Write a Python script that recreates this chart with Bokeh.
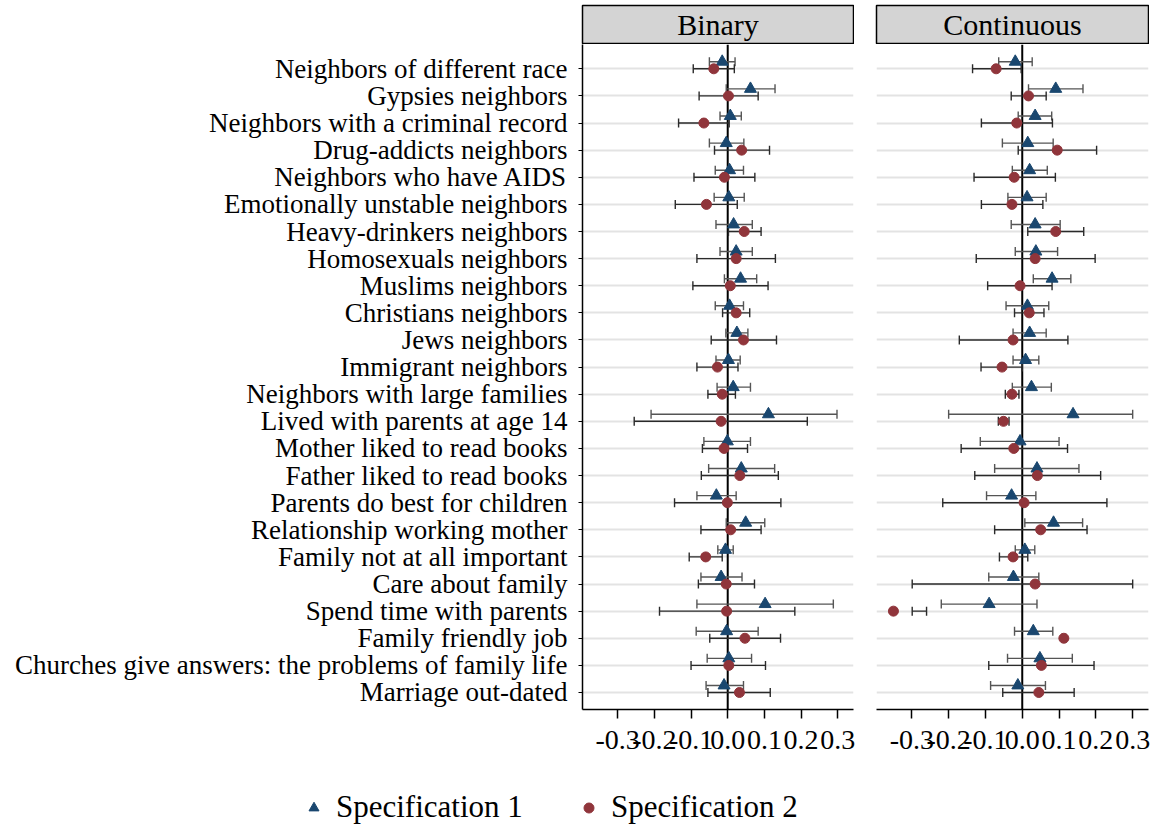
import numpy as np
from bokeh.plotting import figure
from bokeh.models import (ColumnDataSource, Whisker, TeeHead, FixedTicker, NumeralTickFormatter,
                          Range1d, Legend, LegendItem, Spacer, Label, Span)
from bokeh.layouts import column, row
from bokeh.embed import file_html
from bokeh.resources import INLINE

categories = [
    "Neighbors of different race", "Gypsies neighbors", "Neighbors with a criminal record",
    "Drug-addicts neighbors", "Neighbors who have AIDS", "Emotionally unstable neighbors",
    "Heavy-drinkers neighbors", "Homosexuals neighbors", "Muslims neighbors",
    "Christians neighbors", "Jews neighbors", "Immigrant neighbors",
    "Neighbors with large families", "Lived with parents at age 14", "Mother liked to read books",
    "Father liked to read books", "Parents do best for children", "Relationship working mother",
    "Family not at all important", "Care about family", "Spend time with parents",
    "Family friendly job", "Churches give answers: the problems of family life", "Marriage out-dated",
]
panels = ["Binary", "Continuous"]
series_names = ["Specification 1", "Specification 2"]
xticks = [-0.3, -0.2, -0.1, 0.0, 0.1, 0.2, 0.3]

# Binary, Specification 1
bin_s1 = [-0.015, 0.062, 0.007, -0.004, 0.005, 0.003, 0.016, 0.023, 0.035, 0.005, 0.025, 0.002,
          0.015, 0.111, -0.001, 0.037, -0.031, 0.049, -0.006, -0.018, 0.102, -0.003, 0.003, -0.010]
bin_s1_lo = [-0.050, -0.004, -0.021, -0.050, -0.034, -0.037, -0.032, -0.021, -0.009, -0.034, -0.005, -0.032,
             -0.029, -0.209, -0.065, -0.052, -0.084, -0.004, -0.027, -0.073, -0.084, -0.086, -0.056, -0.059]
bin_s1_hi = [0.020, 0.129, 0.037, 0.044, 0.043, 0.045, 0.067, 0.067, 0.079, 0.043, 0.055, 0.034,
             0.062, 0.298, 0.062, 0.128, 0.023, 0.101, 0.015, 0.039, 0.288, 0.083, 0.065, 0.043]
# Binary, Specification 2
bin_s2 = [-0.038, 0.002, -0.065, 0.038, -0.009, -0.058, 0.045, 0.023, 0.007, 0.023, 0.043, -0.028,
          -0.015, -0.018, -0.010, 0.033, -0.001, 0.008, -0.060, -0.004, -0.003, 0.047, 0.003, 0.032]
bin_s2_lo = [-0.094, -0.078, -0.134, -0.036, -0.092, -0.143, 0.002, -0.084, -0.095, -0.014, -0.045, -0.084,
             -0.054, -0.255, -0.069, -0.072, -0.145, -0.073, -0.105, -0.080, -0.186, -0.049, -0.100, -0.054]
bin_s2_hi = [0.018, 0.083, 0.004, 0.114, 0.074, 0.026, 0.091, 0.130, 0.110, 0.060, 0.133, 0.028,
             0.021, 0.217, 0.054, 0.138, 0.145, 0.091, -0.015, 0.073, 0.183, 0.144, 0.103, 0.116]
# Continuous, Specification 1
con_s1 = [-0.019, 0.091, 0.035, 0.015, 0.020, 0.013, 0.035, 0.037, 0.081, 0.014, 0.020, 0.009,
          0.025, 0.138, -0.006, 0.040, -0.029, 0.085, 0.007, -0.024, -0.090, 0.030, 0.048, -0.012]
con_s1_lo = [-0.064, 0.017, -0.011, -0.054, -0.027, -0.039, -0.030, -0.019, 0.030, -0.044, -0.025, -0.025,
             -0.027, -0.200, -0.114, -0.075, -0.097, 0.007, -0.019, -0.091, -0.220, -0.021, -0.040, -0.086]
con_s1_hi = [0.027, 0.165, 0.080, 0.084, 0.068, 0.065, 0.103, 0.096, 0.132, 0.072, 0.065, 0.045,
             0.079, 0.300, 0.100, 0.154, 0.037, 0.164, 0.034, 0.045, 0.040, 0.083, 0.136, 0.063]
# Continuous, Specification 2
con_s2 = [-0.071, 0.017, -0.015, 0.095, -0.022, -0.028, 0.091, 0.035, -0.006, 0.019, -0.025, -0.055,
          -0.028, -0.051, -0.023, 0.041, 0.005, 0.050, -0.025, 0.035, -0.350, 0.113, 0.052, 0.045]
con_s2_lo = [-0.135, -0.030, -0.111, -0.011, -0.131, -0.111, 0.015, -0.125, -0.094, -0.021, -0.171, -0.112,
             -0.046, -0.065, -0.166, -0.129, -0.216, -0.075, -0.062, -0.299, -0.299, 0.108, -0.091, -0.053]
con_s2_hi = [-0.003, 0.065, 0.082, 0.202, 0.090, 0.056, 0.167, 0.198, 0.081, 0.059, 0.124, 0.000,
             -0.009, -0.036, 0.123, 0.213, 0.230, 0.176, 0.015, 0.300, -0.260, 0.118, 0.195, 0.141]

NAVY = "#1a476f"
MAROON = "#90353b"
FONT = "Liberation Serif"
n = len(categories)
rows = np.arange(n)
OFFSET = 0.26


def make_panel(vals, show_y, width, mbl, mbr):
    s1, s1lo, s1hi, s2, s2lo, s2hi = vals
    p = figure(width=width, height=721, x_range=Range1d(-0.396, 0.343),
               y_range=Range1d(n - 1 + 0.627, -0.896),
               toolbar_location=None, output_backend="svg",
               y_axis_location="left" if show_y else None,
               min_border_left=mbl, min_border_right=mbr, min_border_top=0, min_border_bottom=56)
    p.outline_line_color = None
    p.xgrid.visible = False
    p.ygrid.ticker = FixedTicker(ticks=list(rows))
    p.ygrid.grid_line_color = "#e3e3e3"
    p.ygrid.grid_line_width = 2

    p.add_layout(Span(location=0, dimension="height", line_color="black", line_width=2, level="underlay"))

    src1 = ColumnDataSource(dict(x=s1, lo=s1lo, hi=s1hi, y=rows - OFFSET))
    src2 = ColumnDataSource(dict(x=s2, lo=s2lo, hi=s2hi, y=rows))
    for src, col in ((src1, "#555555"), (src2, "#2a2a2a")):
        w = Whisker(source=src, base="y", lower="lo", upper="hi", dimension="width",
                    line_color=col, line_width=1.4, level="underlay",
                    lower_head=TeeHead(size=9, line_color=col, line_width=1.4),
                    upper_head=TeeHead(size=9, line_color=col, line_width=1.4))
        p.add_layout(w)
    p.scatter(x="x", y="y", source=src1, marker="triangle", size=12, fill_color=NAVY, line_color=NAVY)
    p.scatter(x="x", y="y", source=src2, marker="circle", size=10, fill_color=MAROON, line_color=MAROON)

    xa = p.xaxis[0]
    xa.ticker = FixedTicker(ticks=xticks)
    xa.formatter = NumeralTickFormatter(format="0.0")
    xa.minor_tick_line_color = None
    xa.major_tick_in = 0
    xa.major_tick_out = 9
    xa.major_tick_line_width = 1.5
    xa.axis_line_width = 1.5
    xa.axis_line_color = "black"
    xa.major_label_standoff = 12
    xa.major_label_text_font = FONT
    xa.major_label_text_font_size = "28px"
    xa.major_label_text_color = "black"
    if show_y:
        ya = p.yaxis[0]
        ya.ticker = FixedTicker(ticks=list(rows))
        ya.major_label_overrides = {int(i): c for i, c in zip(rows, categories)}
        ya.minor_tick_line_color = None
        ya.major_tick_in = 0
        ya.major_tick_out = 4
        ya.major_tick_line_width = 1.2
        ya.axis_line_width = 1.5
        ya.axis_line_color = "black"
        ya.major_label_standoff = 11
        ya.major_label_text_font = FONT
        ya.major_label_text_font_size = "27px"
        ya.major_label_text_color = "black"
    return p


def make_header(text, width):
    h = figure(width=width, height=40, x_range=Range1d(0, 1), y_range=Range1d(0, 1),
               toolbar_location=None, output_backend="svg", x_axis_location=None, y_axis_location=None,
               min_border_left=1, min_border_right=1, min_border_top=1, min_border_bottom=1)
    h.grid.visible = False
    h.background_fill_color = "#d4d4d4"
    h.outline_line_color = "black"
    h.outline_line_width = 1.5
    h.add_layout(Label(x=0.5, y=0.5, text=text, text_align="center", text_baseline="middle",
                       text_font=FONT, text_font_size="30px", text_color="black"))
    return h


p1 = make_panel((bin_s1, bin_s1_lo, bin_s1_hi, bin_s2, bin_s2_lo, bin_s2_hi), True, 857, 575, 11)
p2 = make_panel((con_s1, con_s1_lo, con_s1_hi, con_s2, con_s2_lo, con_s2_hi), False, 289, 12, 5)

h1 = make_header(panels[0], 273)
h2 = make_header(panels[1], 274)

lf = figure(width=1100, height=62, x_range=Range1d(0, 1), y_range=Range1d(0, 1),
            toolbar_location=None, output_backend="svg", x_axis_location=None, y_axis_location=None,
            min_border=0)
lf.outline_line_color = None
lf.grid.visible = False
nan = np.array([np.nan])
r1 = lf.scatter(x=nan, y=nan, marker="triangle", size=12, fill_color=NAVY, line_color=NAVY)
r2 = lf.scatter(x=nan, y=nan, marker="circle", size=10, fill_color=MAROON, line_color=MAROON)
for r, name, loc in ((r1, series_names[0], (294, 2)), (r2, series_names[1], (569, 2))):
    lg = Legend(items=[LegendItem(label=name, renderers=[r])], location=loc,
                orientation="horizontal", border_line_color=None, background_fill_alpha=0,
                padding=0, margin=0, glyph_width=25, glyph_height=25, label_standoff=10,
                label_text_font=FONT, label_text_font_size="31px", label_text_color="black")
    lf.add_layout(lg)

layout = row(
    Spacer(width=7, height=10),
    column(
        Spacer(width=10, height=4),
        row(Spacer(width=574, height=40), h1, Spacer(width=21, height=40), h2),
        row(p1, p2),
        lf,
    ),
)

open("out.html", "w").write(file_html(layout, INLINE))
